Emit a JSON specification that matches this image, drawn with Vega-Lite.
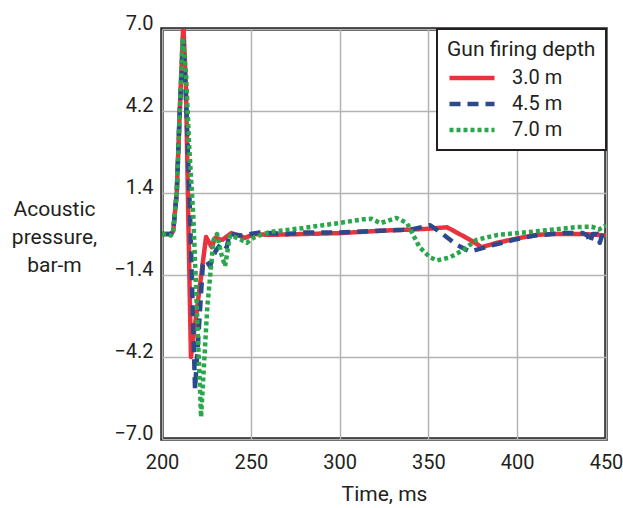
{
  "$schema": "https://vega.github.io/schema/vega-lite/v6.json",
  "width": 444,
  "height": 410,
  "autosize": {"type": "none"},
  "padding": {"left": 162, "top": 29, "right": 17, "bottom": 69},
  "background": "white",
  "config": {
    "font": "Roboto, sans-serif",
    "view": {"stroke": "#231f20", "strokeWidth": 3.5},
    "axis": {
      "gridColor": "#b3b3b3", "gridWidth": 1.5, "gridOpacity": 1,
      "domain": false, "ticks": false,
      "labelColor": "#231f20", "titleColor": "#231f20", "titleFontWeight": "normal",
      "labelFlush": false, "labelOverlap": false
    },
    "legend": {
      "orient": "top-right", "offset": 0, "padding": 10,
      "strokeColor": "#231f20", "strokeWidth": 2, "fillColor": "white",
      "titleFontSize": 21, "titleFontWeight": "normal", "titleColor": "#231f20",
      "labelFontSize": 20, "labelColor": "#231f20",
      "symbolType": "M-1,0L5,0", "symbolSize": 225, "symbolStrokeWidth": 4.5,
      "labelOffset": 45, "rowPadding": 6, "titlePadding": 8
    }
  },
  "data": {
    "values": [
      {"t": 200, "p": 0, "d": "3.0 m"}, {"t": 205, "p": 0, "d": "3.0 m"}, {"t": 206.3, "p": 0.1, "d": "3.0 m"},
      {"t": 208.3, "p": 1.4, "d": "3.0 m"}, {"t": 210, "p": 4.2, "d": "3.0 m"}, {"t": 212, "p": 7.2, "d": "3.0 m"},
      {"t": 213.5, "p": 5.0, "d": "3.0 m"}, {"t": 214.8, "p": 0.6, "d": "3.0 m"}, {"t": 216.3, "p": -4.2, "d": "3.0 m"},
      {"t": 224.8, "p": -0.1, "d": "3.0 m"}, {"t": 228, "p": -0.45, "d": "3.0 m"}, {"t": 230, "p": -0.13, "d": "3.0 m"},
      {"t": 234, "p": -0.2, "d": "3.0 m"}, {"t": 239, "p": 0.03, "d": "3.0 m"}, {"t": 246.8, "p": -0.13, "d": "3.0 m"},
      {"t": 252, "p": 0.0, "d": "3.0 m"}, {"t": 260, "p": -0.03, "d": "3.0 m"}, {"t": 280, "p": 0.0, "d": "3.0 m"},
      {"t": 300, "p": 0.03, "d": "3.0 m"}, {"t": 320, "p": 0.1, "d": "3.0 m"}, {"t": 330, "p": 0.13, "d": "3.0 m"},
      {"t": 340, "p": 0.15, "d": "3.0 m"}, {"t": 350, "p": 0.18, "d": "3.0 m"}, {"t": 360.5, "p": 0.23, "d": "3.0 m"},
      {"t": 373.5, "p": -0.2, "d": "3.0 m"}, {"t": 380, "p": -0.45, "d": "3.0 m"}, {"t": 388.7, "p": -0.3, "d": "3.0 m"},
      {"t": 400, "p": -0.15, "d": "3.0 m"}, {"t": 411, "p": -0.03, "d": "3.0 m"}, {"t": 420, "p": 0.0, "d": "3.0 m"},
      {"t": 437, "p": 0.0, "d": "3.0 m"}, {"t": 450, "p": -0.05, "d": "3.0 m"},

      {"t": 200, "p": 0, "d": "4.5 m"}, {"t": 205, "p": 0, "d": "4.5 m"}, {"t": 206.3, "p": 0.1, "d": "4.5 m"},
      {"t": 208.3, "p": 1.4, "d": "4.5 m"}, {"t": 210, "p": 4.2, "d": "4.5 m"}, {"t": 212, "p": 6.6, "d": "4.5 m"},
      {"t": 213.8, "p": 4.2, "d": "4.5 m"}, {"t": 215.8, "p": 0.65, "d": "4.5 m"}, {"t": 218.6, "p": -5.3, "d": "4.5 m"},
      {"t": 223, "p": -1.05, "d": "4.5 m"}, {"t": 225, "p": -0.9, "d": "4.5 m"}, {"t": 227, "p": -1.1, "d": "4.5 m"},
      {"t": 230, "p": -0.6, "d": "4.5 m"}, {"t": 233.6, "p": -0.3, "d": "4.5 m"}, {"t": 236.5, "p": -0.45, "d": "4.5 m"},
      {"t": 238, "p": 0.0, "d": "4.5 m"}, {"t": 245, "p": -0.05, "d": "4.5 m"}, {"t": 255, "p": 0.05, "d": "4.5 m"},
      {"t": 270, "p": 0.0, "d": "4.5 m"}, {"t": 280, "p": 0.05, "d": "4.5 m"}, {"t": 300, "p": 0.05, "d": "4.5 m"},
      {"t": 320, "p": 0.1, "d": "4.5 m"}, {"t": 340, "p": 0.15, "d": "4.5 m"}, {"t": 351, "p": 0.3, "d": "4.5 m"},
      {"t": 358, "p": 0.0, "d": "4.5 m"}, {"t": 366, "p": -0.37, "d": "4.5 m"}, {"t": 373.5, "p": -0.6, "d": "4.5 m"},
      {"t": 385, "p": -0.4, "d": "4.5 m"}, {"t": 398, "p": -0.2, "d": "4.5 m"}, {"t": 410, "p": -0.05, "d": "4.5 m"},
      {"t": 426, "p": 0.03, "d": "4.5 m"}, {"t": 437, "p": 0.03, "d": "4.5 m"}, {"t": 439.5, "p": -0.05, "d": "4.5 m"},
      {"t": 441, "p": -0.3, "d": "4.5 m"}, {"t": 442.5, "p": 0.0, "d": "4.5 m"}, {"t": 445, "p": 0.0, "d": "4.5 m"},
      {"t": 446.5, "p": -0.3, "d": "4.5 m"}, {"t": 448, "p": 0.0, "d": "4.5 m"}, {"t": 450, "p": 0.05, "d": "4.5 m"},

      {"t": 200, "p": 0, "d": "7.0 m"}, {"t": 205, "p": -0.05, "d": "7.0 m"}, {"t": 206.3, "p": 0.1, "d": "7.0 m"},
      {"t": 208.3, "p": 1.4, "d": "7.0 m"}, {"t": 210, "p": 4.2, "d": "7.0 m"}, {"t": 211.6, "p": 6.7, "d": "7.0 m"},
      {"t": 213.5, "p": 5.5, "d": "7.0 m"}, {"t": 215.3, "p": 3.0, "d": "7.0 m"}, {"t": 217.6, "p": 0.65, "d": "7.0 m"},
      {"t": 222, "p": -6.25, "d": "7.0 m"}, {"t": 225.5, "p": -2.5, "d": "7.0 m"}, {"t": 229, "p": -0.2, "d": "7.0 m"},
      {"t": 231, "p": 0.0, "d": "7.0 m"}, {"t": 233, "p": -0.6, "d": "7.0 m"}, {"t": 235.5, "p": -1.1, "d": "7.0 m"},
      {"t": 238.3, "p": -0.05, "d": "7.0 m"}, {"t": 243, "p": -0.15, "d": "7.0 m"}, {"t": 247.7, "p": -0.3, "d": "7.0 m"},
      {"t": 252.4, "p": -0.1, "d": "7.0 m"}, {"t": 261, "p": 0.07, "d": "7.0 m"}, {"t": 279, "p": 0.2, "d": "7.0 m"},
      {"t": 299, "p": 0.37, "d": "7.0 m"}, {"t": 313, "p": 0.5, "d": "7.0 m"}, {"t": 318, "p": 0.52, "d": "7.0 m"},
      {"t": 323, "p": 0.37, "d": "7.0 m"}, {"t": 332, "p": 0.55, "d": "7.0 m"}, {"t": 338, "p": 0.37, "d": "7.0 m"},
      {"t": 345, "p": -0.45, "d": "7.0 m"}, {"t": 351, "p": -0.8, "d": "7.0 m"}, {"t": 355, "p": -0.9, "d": "7.0 m"},
      {"t": 362, "p": -0.8, "d": "7.0 m"}, {"t": 369.6, "p": -0.55, "d": "7.0 m"}, {"t": 377, "p": -0.2, "d": "7.0 m"},
      {"t": 389, "p": -0.03, "d": "7.0 m"}, {"t": 407, "p": 0.07, "d": "7.0 m"}, {"t": 420, "p": 0.15, "d": "7.0 m"},
      {"t": 434, "p": 0.24, "d": "7.0 m"}, {"t": 442, "p": 0.25, "d": "7.0 m"}, {"t": 446, "p": 0.15, "d": "7.0 m"},
      {"t": 450, "p": 0.3, "d": "7.0 m"}
    ]
  },
  "mark": {"type": "line", "clip": true, "strokeWidth": 4.5, "strokeCap": "butt", "strokeJoin": "round"},
  "encoding": {
    "x": {
      "field": "t", "type": "quantitative",
      "scale": {"domain": [200, 450], "nice": false, "zero": false},
      "axis": {
        "values": [200, 250, 300, 350, 400, 450], "title": "Time, ms",
        "labelFontSize": 20, "labelBaseline": "alphabetic", "labelPadding": 29,
        "titleFontSize": 21, "titleBaseline": "alphabetic", "titleY": 61, "titleX": 222
      }
    },
    "y": {
      "field": "p", "type": "quantitative",
      "scale": {"domain": [-7, 7], "nice": false, "zero": false},
      "axis": {
        "values": [-7, -4.2, -1.4, 1.4, 4.2, 7], "format": ".1f",
        "labelFontSize": 20, "labelPadding": 9, "labelOffset": -6, "labelBaseline": "middle",
        "title": ["Acoustic", "pressure,", "bar-m"], "titleAngle": 0, "titleAlign": "center",
        "titleBaseline": "alphabetic", "titleX": -108, "titleY": 186, "titleFontSize": 21, "titleLineHeight": 28
      }
    },
    "color": {
      "field": "d", "type": "nominal",
      "scale": {"domain": ["3.0 m", "4.5 m", "7.0 m"], "range": ["#e8333c", "#2b4a8b", "#2aa64b"]},
      "legend": {"title": "Gun firing depth"}
    },
    "strokeDash": {
      "field": "d", "type": "nominal",
      "scale": {"domain": ["3.0 m", "4.5 m", "7.0 m"], "range": [[1, 0], [11, 7], [4, 3]]},
      "legend": {"title": "Gun firing depth"}
    }
  }
}
